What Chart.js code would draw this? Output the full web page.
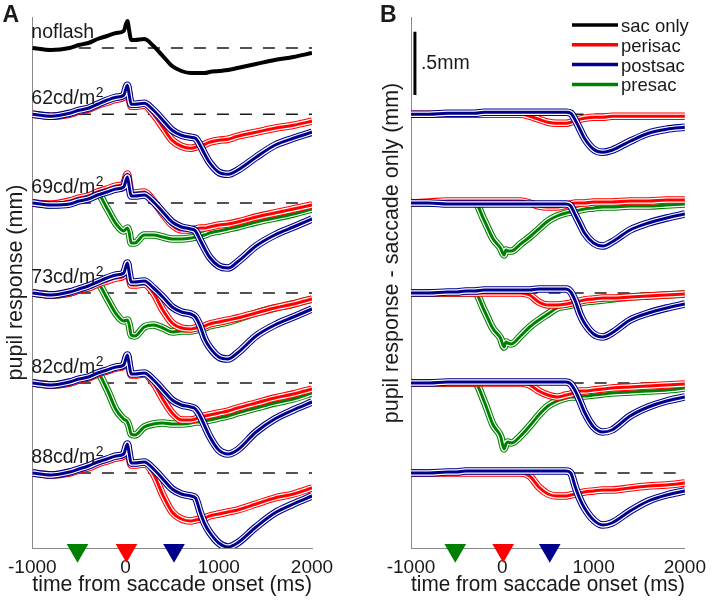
<!DOCTYPE html>
<html>
<head>
<meta charset="utf-8">
<title>pupil response to flashes around saccades</title>
<script src="https://cdn.jsdelivr.net/npm/chart.js@4/dist/chart.umd.min.js"></script>
<style>
  body { margin: 0; background: #fff; overflow: hidden; }
  #wrap { position: relative; width: 714px; height: 601px; }
  #wrap canvas { position: absolute; top: 0; }
</style>
</head>
<body>
<div id="wrap">
  <canvas id="panelA" width="357" height="601" style="left:0px"></canvas>
  <canvas id="panelB" width="357" height="601" style="left:357px"></canvas>
</div>
<script>
// time from saccade onset (ms), shared by every trace
const t = [-1000,-800,-600,-500,-400,-300,-200,-100,-20,20,40,60,100,200,300,400,500,600,700,750,800,850,900,1000,1100,1200,1400,1600,1800,2000];
const xTicks = [-1000, 0, 1000, 2000];

// saccade only (noflash) response, mm
const sacOnly = [0,-0.016,0,0.024,0.04,0.072,0.096,0.12,0.136,0.216,0.136,0.064,0.064,0.072,0.016,-0.064,-0.144,-0.184,-0.2,-0.2,-0.2,-0.2,-0.192,-0.184,-0.176,-0.16,-0.128,-0.096,-0.072,-0.04];

// response minus saccade only (panel B), mm
const peri62 = [0,0,0,0,0,0,0,0,0,0,0,0,0,0,-0.016,-0.04,-0.064,-0.072,-0.072,-0.064,-0.048,-0.04,-0.032,-0.024,-0.024,-0.016,-0.016,-0.016,-0.016,-0.016];
const post62 = [0,0,0.008,0.008,0.008,0.008,0.016,0.016,0.016,0.016,0.016,0.016,0.016,0.016,0.016,0.016,0.016,0.016,0.016,0.008,-0.048,-0.12,-0.192,-0.28,-0.304,-0.288,-0.216,-0.152,-0.12,-0.104];

const pre69 = [0,0,0,0,0,0,-0.136,-0.288,-0.36,-0.416,-0.376,-0.384,-0.384,-0.328,-0.272,-0.208,-0.144,-0.104,-0.08,-0.072,-0.064,-0.056,-0.048,-0.04,-0.032,-0.032,-0.024,-0.024,-0.016,-0.008];
const peri69 = [0,0.008,0.016,0.016,0.016,0.016,0.016,0.016,0.016,0.016,0.016,0.016,0.016,0.016,0,-0.024,-0.032,-0.032,-0.016,-0.008,0,0,0,0.008,0.008,0.008,0.016,0.016,0.024,0.024];
const post69 = [0,0,-0.008,-0.008,-0.008,-0.008,-0.008,-0.008,-0.008,-0.008,-0.008,-0.008,-0.008,-0.008,-0.008,-0.008,-0.008,-0.008,-0.008,-0.024,-0.096,-0.168,-0.24,-0.32,-0.344,-0.312,-0.216,-0.16,-0.12,-0.088];

const pre73 = [0,0,0,0,0,0,-0.136,-0.288,-0.36,-0.432,-0.392,-0.4,-0.408,-0.344,-0.272,-0.216,-0.168,-0.12,-0.104,-0.096,-0.088,-0.08,-0.072,-0.064,-0.056,-0.048,-0.032,-0.024,-0.016,-0.008];
const peri73 = [0,0,0,0,0,0,0,0,0,0,0,0,0,0,-0.016,-0.072,-0.096,-0.096,-0.088,-0.08,-0.072,-0.064,-0.056,-0.048,-0.04,-0.04,-0.032,-0.024,-0.016,-0.008];
const post73 = [0,0,0.008,0.008,0.016,0.016,0.024,0.024,0.024,0.024,0.024,0.024,0.024,0.024,0.024,0.032,0.032,0.032,0.032,0.008,-0.064,-0.168,-0.24,-0.328,-0.352,-0.32,-0.216,-0.16,-0.12,-0.088];

const pre82 = [0,0,0,0,0,0,-0.144,-0.336,-0.424,-0.528,-0.488,-0.472,-0.48,-0.424,-0.344,-0.256,-0.184,-0.144,-0.12,-0.112,-0.112,-0.104,-0.104,-0.096,-0.088,-0.08,-0.072,-0.064,-0.056,-0.04];
const peri82 = [0,0,0,0,0,0,0,0,0,0,0,0,0,0,-0.016,-0.064,-0.096,-0.112,-0.096,-0.088,-0.072,-0.064,-0.064,-0.056,-0.048,-0.04,-0.032,-0.024,-0.016,-0.008];
const post82 = [0,0,0.008,0.008,0.008,0.008,0.008,0.008,0.008,0.008,0.008,0.008,0.008,0.008,0.008,0.008,0.008,0.008,0.008,-0.008,-0.064,-0.144,-0.232,-0.352,-0.392,-0.376,-0.264,-0.192,-0.144,-0.112];

const peri88 = [0,0,0,0,0,0,0,0,0,0,0,0,0,0,-0.024,-0.112,-0.168,-0.184,-0.184,-0.176,-0.168,-0.16,-0.152,-0.144,-0.136,-0.136,-0.12,-0.104,-0.096,-0.08];
const post88 = [0,0,0.008,0.008,0.016,0.016,0.016,0.016,0.016,0.016,0.016,0.016,0.016,0.016,0.016,0.016,0.016,0.016,0.016,0,-0.112,-0.208,-0.28,-0.376,-0.416,-0.4,-0.304,-0.224,-0.176,-0.144];

const rowNames = ['62cd/m²', '69cd/m²', '73cd/m²', '82cd/m²', '88cd/m²'];
const rowBase = [3.47, 2.76, 2.04, 1.32, 0.6];   // vertical offset of each row, mm
const noflashBase = 4.0;
const preRows = [null, pre69, pre73, pre82, null];
const periRows = [peri62, peri69, peri73, peri82, peri88];
const postRows = [post62, post69, post73, post82, post88];

const flashTimes = [-515, 10, 520];   // presac, perisac, postsac markers
const dashX = [-500, 2000];
const legendNames = ['sac only', 'perisac', 'postsac', 'presac'];

const FONT = '"Liberation Sans", Arial, Helvetica, sans-serif';
const TEXT = '#1a1a1a';
const AXIS = '#8a8a8a';
const colSac = '#000000', colPeri = '#ff0000', colPost = '#00008c', colPre = '#008000';
const legendColors = [colSac, colPeri, colPost, colPre];

function pts(xs, ys) {
  return xs.map((x, i) => ({x: x, y: ys[i]}));
}

// mean line with thin sem outline: colour, white gap, colour
function band(layers, ys, col) {
  const d = pts(t, ys);
  const common = {cubicInterpolationMode: 'monotone', borderJoinStyle: 'round'};
  layers.push(Object.assign({data: d, borderColor: col, borderWidth: 7.5}, common));
  layers.push(Object.assign({data: d, borderColor: '#ffffff', borderWidth: 5.4}, common));
  layers.push(Object.assign({data: d, borderColor: col, borderWidth: 3}, common));
}

function makeDatasets(panel) {
  const isA = panel === 'A';
  const layers = [];   // bottom first
  const bases = isA ? [noflashBase].concat(rowBase) : rowBase;
  bases.forEach(b => layers.push({data: pts(dashX, [b, b]), borderColor: '#1a1a1a', borderWidth: 1.3, borderDash: [12, 11]}));
  if (isA) {
    layers.push({data: pts(t, sacOnly.map(v => v + noflashBase)), borderColor: colSac, borderWidth: 4,
      cubicInterpolationMode: 'monotone', borderJoinStyle: 'round'});
  }
  rowBase.forEach((b, r) => {
    [[preRows[r], colPre], [periRows[r], colPeri], [postRows[r], colPost]].forEach(([diff, col]) => {
      if (!diff) return;
      band(layers, diff.map((v, i) => b + v + (isA ? sacOnly[i] : 0)), col);
    });
  });
  layers.push({data: flashTimes.map(x => ({x: x, y: -0.018})), showLine: false, pointRadius: 12.5,
    pointStyle: 'triangle', pointRotation: 180, pointBackgroundColor: [colPre, colPeri, colPost],
    pointBorderWidth: 0, clip: false});
  if (!isA) {
    // .5mm scale bar
    layers.push({data: pts([-957, -957], [3.625, 4.13]), borderColor: '#000', borderWidth: 3});
  }
  return layers.map((d, i) => Object.assign({type: 'line', pointRadius: 0, fill: false, order: layers.length - i}, d));
}

// row label with the trailing ² set as a raised small 2
function rowLabel(ctx, s, x, y) {
  ctx.font = '19.5px ' + FONT;
  if (s.endsWith('²')) {
    const main = s.slice(0, -1);
    ctx.fillText(main, x, y);
    const w = ctx.measureText(main).width;
    ctx.font = '14px ' + FONT;
    ctx.fillText('2', x + w + 0.5, y - 6.5);
  } else {
    ctx.fillText(s, x, y);
  }
}

const panelText = {
  id: 'panelText',
  afterDraw(chart, args, o) {
    const ctx = chart.ctx, xs = chart.scales.x, ys = chart.scales.y;
    ctx.save();
    ctx.fillStyle = TEXT;
    ctx.textAlign = 'left';
    ctx.textBaseline = 'alphabetic';
    ctx.font = 'bold 23px ' + FONT;
    ctx.fillText(o.panel, o.panel === 'A' ? 2.5 : 23, 21.5);
    if (o.panel === 'A') {
      const labs = ['noflash'].concat(rowNames);
      const bases = [noflashBase].concat(rowBase);
      labs.forEach((s, i) => rowLabel(ctx, s, xs.left - 1, ys.getPixelForValue(bases[i]) - 10.5));
    } else {
      ctx.font = '19.5px ' + FONT;
      ctx.fillText('.5mm', xs.getPixelForValue(-957) + 6, ys.getPixelForValue(3.83));
      // legend
      ctx.font = '18.5px ' + FONT;
      ctx.textBaseline = 'middle';
      legendNames.forEach((s, i) => {
        const y = 25 + i * 19.8;
        ctx.strokeStyle = legendColors[i];
        ctx.lineWidth = 3.5;
        ctx.beginPath();
        ctx.moveTo(215, y);
        ctx.lineTo(261, y);
        ctx.stroke();
        ctx.fillText(s, 264, y + 2);
      });
      // y title sits above the axis centre in the original
      ctx.translate(35, 253);
      ctx.rotate(-Math.PI / 2);
      ctx.textAlign = 'center';
      ctx.font = '21.5px ' + FONT;
      ctx.fillText('pupil response - saccade only (mm)', 0, 0);
    }
    ctx.restore();
  }
};

function makeChart(id, panel) {
  const isA = panel === 'A';
  return new Chart(document.getElementById(id), {
    type: 'line',
    data: {datasets: makeDatasets(panel)},
    options: {
      responsive: false,
      animation: false,
      events: [],
      layout: {padding: {top: 17, left: 0, right: isA ? 45 : 22, bottom: 0}},
      plugins: {legend: {display: false}, tooltip: {enabled: false}, panelText: {panel: panel}},
      scales: {
        x: {
          type: 'linear', min: -1000, max: 2000,
          afterBuildTicks: s => { s.ticks = xTicks.map(v => ({value: v})); },
          afterFit: s => { s.height = 53; },
          grid: {display: false, drawTicks: false},
          border: {display: true, color: AXIS, width: 1},
          ticks: {color: TEXT, font: {family: FONT, size: 19}, padding: 8, maxRotation: 0, autoSkip: false,
            callback: v => String(v)},
          title: {display: true, text: 'time from saccade onset (ms)', color: TEXT,
            font: {family: FONT, size: 21.5}, padding: {top: 0, bottom: 3}}
        },
        y: {
          type: 'linear', min: 0, max: 4.248,
          afterFit: s => { s.width = isA ? 29 : 54; },
          grid: {display: false, drawTicks: false},
          border: {display: true, color: AXIS, width: 1},
          ticks: {display: false},
          title: {display: isA, text: 'pupil response (mm)', color: TEXT,
            font: {family: FONT, size: 21.5}, padding: {top: 0, bottom: 0}}
        }
      }
    },
    plugins: [panelText]
  });
}

makeChart('panelA', 'A');
makeChart('panelB', 'B');
</script>
</body>
</html>
